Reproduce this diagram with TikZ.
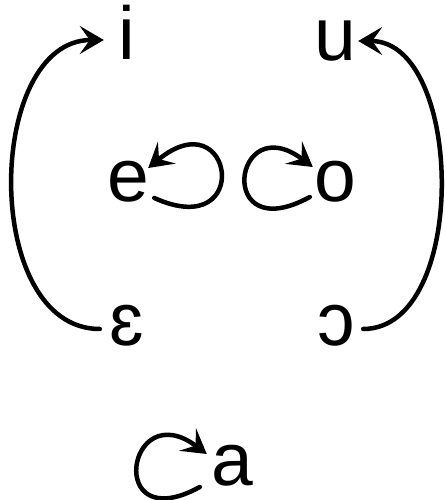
\documentclass[tikz,border=0pt]{standalone}
\usepackage{fontspec}
\setmainfont{Liberation Sans}
\usepackage{tikz}
\usetikzlibrary{positioning,calc,arrows.meta}
\tikzset{VOWEL/.style={inner sep=0pt,minimum width=46pt,text height=40pt,text depth=0pt,anchor=base,font=\fontsize{75pt}{80pt}\selectfont}}
\tikzset{ARROW/.style={line width=4.5pt,line cap=round,-{Stealth[length=24pt,width=28pt,inset=10pt]}}}

\begin{document}
\begin{tikzpicture}[x=1pt,y=1pt]

\useasboundingbox (0,0) rectangle (444,500);

\node[VOWEL] (n_i) at (127,440) {i};
\node[VOWEL] (n_u) at (335,439) {u};
\node[VOWEL] (n_e) at (128,298) {e};
\node[VOWEL] (n_o) at (335,298) {o};
\node[VOWEL] (n_eps) at (127,154) {ɛ};
\node[VOWEL] (n_oo) at (336,154) {ɔ};
\node[VOWEL] (n_a) at (232,14) {a};

% raising: open-mid to close
\draw[ARROW] ($(n_eps.west)+(-4,-3)$) to[out=180,in=180,looseness=1.05] (n_i.west);
\draw[ARROW] ($(n_oo.east)+(4,-3)$) to[out=0,in=0,looseness=0.94] (n_u.east);

% loops on e, o, a
\coordinate (c_e_start) at ($(n_e.east)+(3,-16)$);
\coordinate (c_e_end) at ($(n_e.east)+(-3,14)$);
\draw[ARROW] (c_e_start) .. controls +(100,-45) and +(85,70) .. (c_e_end);

\coordinate (c_o_start) at ($(n_o.west)+(-2,-15)$);
\coordinate (c_o_end) at ($(n_o.west)+(1,15)$);
\draw[ARROW] (c_o_start) .. controls +(-95,-52) and +(-80,60) .. (c_o_end);

\coordinate (c_a_start) at ($(n_a.west)+(-9,-21)$);
\coordinate (c_a_end) at ($(n_a.west)+(-2,12)$);
\draw[ARROW] (c_a_start) .. controls +(-95,-52) and +(-80,60) .. (c_a_end);

\end{tikzpicture}
\end{document}
